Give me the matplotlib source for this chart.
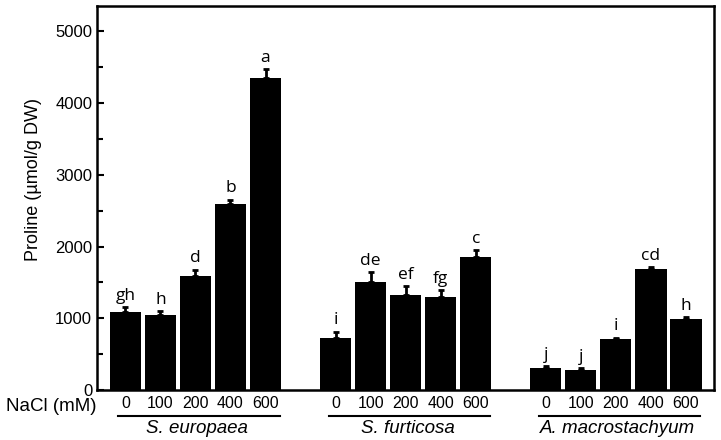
import numpy as np
import matplotlib.pyplot as plt
import matplotlib.transforms as mtransforms

# --- data ---
species = ['S. europaea', 'S. furticosa', 'A. macrostachyum']
nacl = ['0', '100', '200', '400', '600']
europaea = [1090, 1040, 1595, 2600, 4355]
europaea_err = [65, 60, 85, 55, 125]
furticosa = [730, 1500, 1330, 1290, 1850]
furticosa_err = [85, 140, 120, 100, 100]
macrostachyum = [310, 280, 710, 1690, 995]
macrostachyum_err = [20, 20, 20, 20, 25]
letters_eu = ['gh', 'h', 'd', 'b', 'a']
letters_fu = ['i', 'de', 'ef', 'fg', 'c']
letters_ma = ['j', 'j', 'i', 'cd', 'h']

plt.rcParams['font.family'] = ['Liberation Sans', 'DejaVu Sans']

fig = plt.figure(figsize=(7.21, 4.40), dpi=100)
ax = fig.add_axes([97 / 721, 1 - 390 / 440, (714 - 97) / 721, (390 - 6) / 440])

values = [europaea, furticosa, macrostachyum]
errors = [europaea_err, furticosa_err, macrostachyum_err]
letters = [letters_eu, letters_fu, letters_ma]

all_x = []
for g in range(3):
    x = np.arange(5) + g * 6
    all_x.extend(x)
    err = errors[g]
    ax.bar(x, values[g], width=0.89, color='black',
           yerr=[np.zeros(5), err],
           error_kw=dict(ecolor='black', elinewidth=2, capsize=2.5, capthick=2))
    for xi, v, e, lab in zip(x, values[g], err, letters[g]):
        ax.text(xi, v + e + 45, lab, ha='center', va='bottom',
                fontsize=12.5, family='Open Sans')
    # underline + species name
    trans = mtransforms.blended_transform_factory(ax.transData, ax.transAxes)
    ax.plot([x[0] - 0.2, x[-1] + 0.4], [-0.068, -0.068], color='black',
            lw=1.5, transform=trans, clip_on=False)
    ax.text(x[2] + 0.05, -0.1, species[g], ha='center', va='center',
            style='italic', fontsize=13.5, transform=trans)

ax.set_xticks(all_x, nacl * 3)
ax.tick_params(axis='x', length=0, pad=4, labelsize=11.5)
ax.set_xlim(-0.81, 16.8)
ax.set_ylim(0, 5355)
ax.set_yticks([0, 1000, 2000, 3000, 4000, 5000])
ax.set_yticks(np.arange(500, 5000, 1000), minor=True)
ax.tick_params(axis='y', which='both', direction='in', labelsize=12, width=1.5)
ax.tick_params(axis='y', which='major', length=5)
ax.tick_params(axis='y', which='minor', length=4)
ax.set_ylabel('Proline (µmol/g DW)', fontsize=13)
ax.yaxis.set_label_coords(-0.089, 0.547)
for s in ax.spines.values():
    s.set_linewidth(1.8)

ax.text(-0.148, -0.02, 'NaCl (mM)', transform=ax.transAxes, ha='left',
        va='top', fontsize=13.5)

fig.savefig('out.png', dpi=100)
